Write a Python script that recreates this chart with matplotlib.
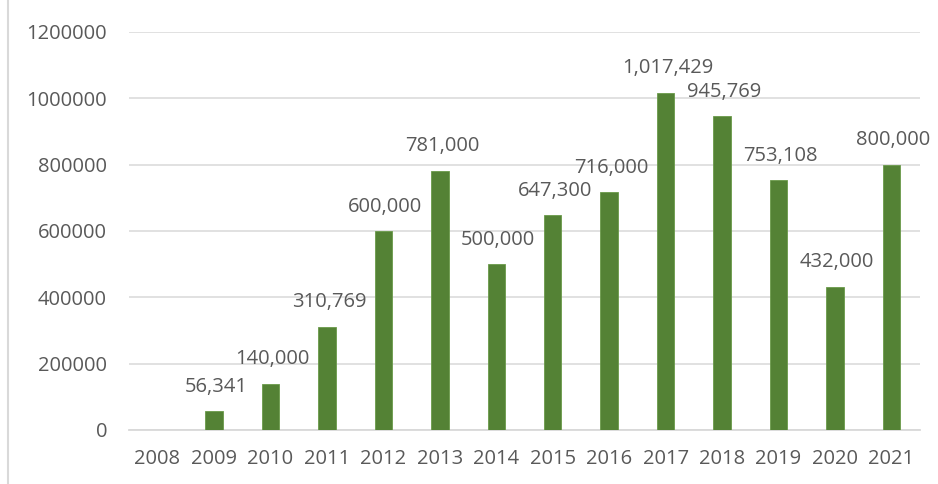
import matplotlib.pyplot as plt
from matplotlib.lines import Line2D

years = ['2008', '2009', '2010', '2011', '2012', '2013', '2014',
         '2015', '2016', '2017', '2018', '2019', '2020', '2021']
values = [0, 56341, 140000, 310769, 600000, 781000, 500000,
          647300, 716000, 1017429, 945769, 753108, 432000, 800000]
yticks = [0, 200000, 400000, 600000, 800000, 1000000, 1200000]

plt.rcParams['font.family'] = ['Open Sans', 'DejaVu Sans']
txt = '#595959'
grid = '#d9d9d9'

fig = plt.figure(figsize=(9.38, 4.84), dpi=100)
ax = fig.add_axes([0.1378, 0.1116, 0.8427, 0.8224])

x = list(range(len(years)))
ax.bar(x, values, width=0.31, color='#548235', edgecolor='#6a9a4a', linewidth=0.6, zorder=3)

for xi, v in zip(x, values):
    if v > 0:
        ax.annotate(f'{v:,}', (xi, v), xytext=(1.5, 14), textcoords='offset points',
                    ha='center', va='baseline', fontsize=14.5, color=txt)

ax.set_xlim(-0.5, len(years) - 0.5)
ax.set_ylim(0, 1200000)
ax.set_xticks(x)
ax.set_xticklabels(years)
ax.set_yticks(yticks)
ax.set_yticklabels([str(t) for t in yticks])
ax.tick_params(axis='both', length=0, labelsize=14.5, labelcolor=txt)
ax.tick_params(axis='y', pad=16)
ax.tick_params(axis='x', pad=14)

ax.grid(axis='y', color=grid, linewidth=1.1, zorder=0)
for s in ['top', 'right', 'left']:
    ax.spines[s].set_visible(False)
ax.spines['bottom'].set_color(grid)
ax.spines['bottom'].set_linewidth(1.3)

# outer chart border piece on the left
fig.add_artist(Line2D([0.008, 0.008], [0, 1], color=grid, linewidth=1.5, transform=fig.transFigure))

fig.savefig('out.png', dpi=100)
